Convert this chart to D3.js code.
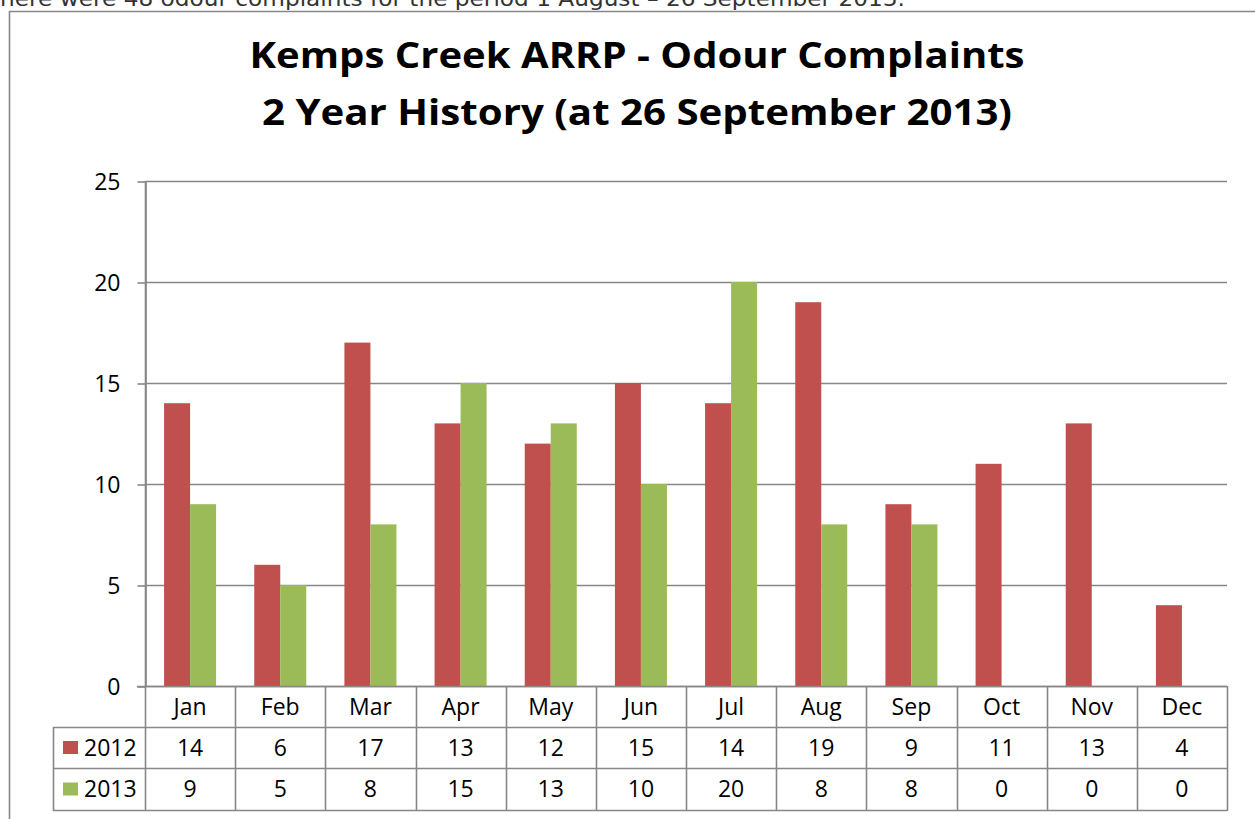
<!DOCTYPE html>
<html>
<head>
<meta charset="utf-8">
<script src="https://cdn.jsdelivr.net/npm/d3@7"></script>
<style>
  html, body { margin: 0; padding: 0; background: #fff; }
  svg { display: block; }
</style>
</head>
<body>
<svg id="chart" width="1255" height="819"></svg>
<script>
const months = ["Jan","Feb","Mar","Apr","May","Jun","Jul","Aug","Sep","Oct","Nov","Dec"];
const seriesNames = ["2012","2013"];
const values2012 = [14, 6, 17, 13, 12, 15, 14, 19, 9, 11, 13, 4];
const values2013 = [9, 5, 8, 15, 13, 10, 20, 8, 8, 0, 0, 0];
const yTicks = [0, 5, 10, 15, 20, 25];
const titleLines = ["Kemps Creek ARRP - Odour Complaints", "2 Year History (at 26 September 2013)"];
const topNote = "here were 48 odour complaints for the period 1 August \u2013 26 September 2013.";

const colors = { "2012": "#C0504D", "2013": "#9BBB59" };
const lineColor = "#878787";
const font = "'Open Sans', 'Liberation Sans', sans-serif";

const svg = d3.select("#chart");

// cut-off sentence at the very top
svg.append("text")
  .attr("x", 0).attr("y", 6)
  .attr("font-family", "'DejaVu Sans', sans-serif")
  .attr("font-size", 21)
  .attr("fill", "#333")
  .attr("textLength", 905)
  .attr("lengthAdjust", "spacingAndGlyphs")
  .text(topNote);

// outer chart frame
svg.append("path")
  .attr("d", "M9.5,830 V11.5 H1270")
  .attr("fill", "none")
  .attr("stroke", lineColor)
  .attr("stroke-width", 1.6);

// title
const titleY = [68, 125];
const titleW = [775, 750];
titleLines.forEach((t, i) => {
  svg.append("text")
    .attr("x", 637).attr("y", titleY[i])
    .attr("text-anchor", "middle")
    .attr("font-family", font)
    .attr("font-weight", "bold")
    .attr("font-size", 36)
    .attr("fill", "#000")
    .attr("textLength", titleW[i])
    .attr("lengthAdjust", "spacingAndGlyphs")
    .text(t);
});

const plotLeft = 145, plotRight = 1227, plotTop = 181, plotBottom = 686;
const x0 = d3.scaleBand().domain(months).range([plotLeft, plotRight]).padding(0);
const step = x0.bandwidth();
const x1 = d3.scaleBand().domain(seriesNames).range([0, step]).paddingInner(0).paddingOuter(0.734);
const y = d3.scaleLinear().domain([0, 25]).range([plotBottom, plotTop]);

// gridlines
svg.append("g")
  .selectAll("line")
  .data(yTicks)
  .join("line")
  .attr("x1", plotLeft).attr("x2", plotRight)
  .attr("y1", d => Math.round(y(d)) + 0.5).attr("y2", d => Math.round(y(d)) + 0.5)
  .attr("stroke", lineColor).attr("stroke-width", 1.6);

// bars
const data = months.map((m, i) => ({ month: m, "2012": values2012[i], "2013": values2013[i] }));
const gBars = svg.append("g");
gBars.selectAll("g")
  .data(data)
  .join("g")
  .attr("transform", d => `translate(${x0(d.month)},0)`)
  .selectAll("rect")
  .data(d => seriesNames.map(s => ({ s, v: d[s] })))
  .join("rect")
  .attr("x", d => x1(d.s))
  .attr("width", x1.bandwidth())
  .attr("y", d => y(d.v))
  .attr("height", d => y(0) - y(d.v))
  .attr("fill", d => colors[d.s]);

// y axis
const yAxis = d3.axisLeft(y).tickValues(yTicks).tickSizeInner(8).tickSizeOuter(0).tickPadding(17);
const gy = svg.append("g")
  .attr("transform", `translate(${plotLeft + 0.5},0.5)`)
  .call(yAxis);
gy.select(".domain").attr("stroke", lineColor).attr("stroke-width", 1.6);
gy.selectAll(".tick line").attr("stroke", lineColor).attr("stroke-width", 1.6);
gy.selectAll(".tick text")
  .attr("font-family", font)
  .attr("font-size", 23)
  .attr("fill", "#000")
  .attr("dy", "0.36em");

// x axis line (zero) extends to left tick
svg.append("line")
  .attr("x1", plotLeft - 8).attr("x2", plotRight)
  .attr("y1", Math.round(y(0)) + 0.5).attr("y2", Math.round(y(0)) + 0.5)
  .attr("stroke", lineColor).attr("stroke-width", 1.6);

// data table
const tableLeft = 53;
const rowY = [686, 727, 768, 810];
const gT = svg.append("g");
[1, 2, 3].forEach(i => {
  gT.append("line")
    .attr("x1", tableLeft).attr("x2", plotRight)
    .attr("y1", rowY[i] + 0.5).attr("y2", rowY[i] + 0.5)
    .attr("stroke", lineColor).attr("stroke-width", 1.6);
});
gT.append("line")
  .attr("x1", tableLeft + 0.5).attr("x2", tableLeft + 0.5)
  .attr("y1", rowY[1]).attr("y2", rowY[3] + 1)
  .attr("stroke", lineColor).attr("stroke-width", 1.6);
const bounds = months.map(m => x0(m)).concat([plotRight]);
gT.selectAll("line.v")
  .data(bounds)
  .join("line")
  .attr("class", "v")
  .attr("x1", d => Math.round(d) + 0.5).attr("x2", d => Math.round(d) + 0.5)
  .attr("y1", (d, i) => i === 0 ? plotTop : rowY[0])
  .attr("y2", rowY[3] + 1)
  .attr("stroke", lineColor).attr("stroke-width", 1.6);

gT.selectAll("text.m")
  .data(months)
  .join("text")
  .attr("class", "m")
  .attr("x", d => x0(d) + step / 2)
  .attr("y", (rowY[0] + rowY[1]) / 2)
  .attr("dy", "0.36em")
  .attr("text-anchor", "middle")
  .attr("font-family", font).attr("font-size", 23).attr("fill", "#000")
  .text(d => d);

const rows = [values2012, values2013];
rows.forEach((vals, r) => {
  const cy = (rowY[r + 1] + rowY[r + 2]) / 2;
  gT.append("rect")
    .attr("x", 63).attr("y", cy - 6.5)
    .attr("width", 15).attr("height", 13)
    .attr("fill", colors[seriesNames[r]]);
  gT.append("text")
    .attr("x", 84).attr("y", cy).attr("dy", "0.36em")
    .attr("font-family", font).attr("font-size", 23).attr("fill", "#000")
    .text(seriesNames[r]);
  gT.selectAll(null)
    .data(vals)
    .join("text")
    .attr("x", (d, i) => x0(months[i]) + step / 2)
    .attr("y", cy).attr("dy", "0.36em")
    .attr("text-anchor", "middle")
    .attr("font-family", font).attr("font-size", 23).attr("fill", "#000")
    .text(d => d);
});
</script>
</body>
</html>
